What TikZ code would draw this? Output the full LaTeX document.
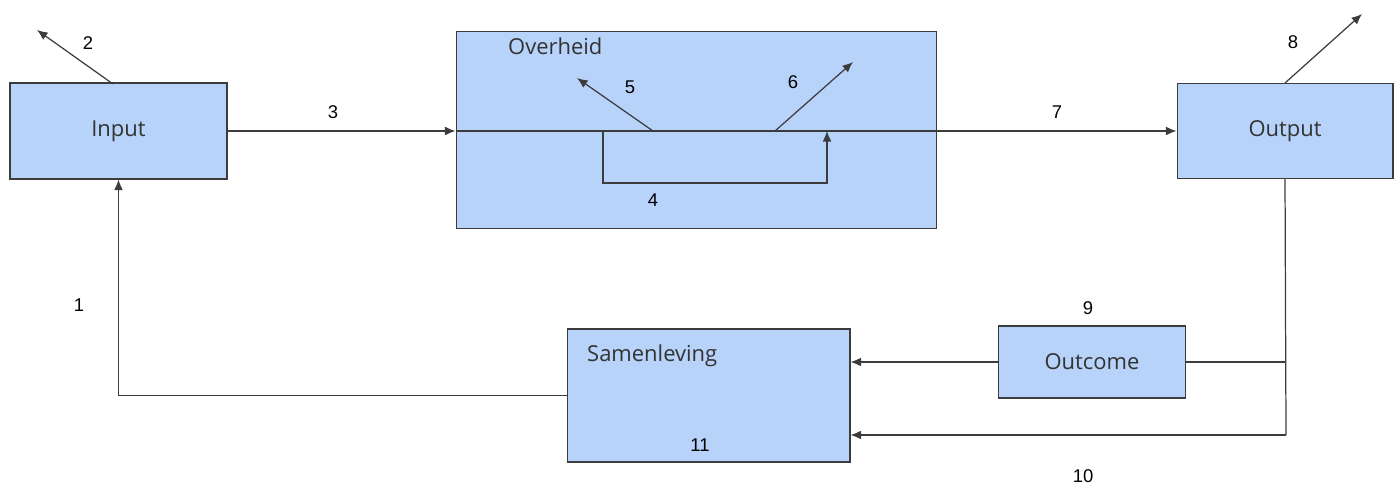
\documentclass[tikz,border=0pt]{standalone}
\usepackage{fontspec}
\setmainfont{Open Sans}
\newfontfamily\numfont{Liberation Sans}
\usetikzlibrary{arrows.meta}
\definecolor{boxblue}{RGB}{183,211,250}
\definecolor{linegray}{RGB}{60,60,60}

\begin{document}
\begin{tikzpicture}[
        x=0.02cm, y=-0.02cm,
        box/.style={rectangle, draw=linegray, fill=boxblue, line width=0.6pt, inner sep=0pt, font=\fontsize{12.5}{14}\selectfont, text=black!80},
        arr/.style={draw=linegray, line width=0.7pt, -{Latex[length=6pt,width=5pt]}},
        ln/.style={draw=linegray, line width=0.7pt},
        num/.style={font=\numfont\fontsize{10.5}{12}\selectfont}
    ]
    \useasboundingbox (0,0) rectangle (1398,486);

    % boxes
    \node[box, minimum width=4.34cm, minimum height=1.92cm] (input) at (118.5,131) {Input};
    \node[box, minimum width=9.62cm, minimum height=3.94cm] (overheid) at (696.5,130) {};
    \node[box, minimum width=4.32cm, minimum height=1.90cm] (output) at (1285,131) {Output};
    \node[box, minimum width=3.74cm, minimum height=1.44cm] (outcome) at (1092,362) {Outcome};
    \node[box, minimum width=5.66cm, minimum height=2.66cm] (samen) at (708.5,395.5) {};
    \node[anchor=west, font=\fontsize{12.5}{14}\selectfont, text=black!80] (overheidtxt) at (502,46) {Overheid};
    \node[anchor=west, font=\fontsize{12.5}{14}\selectfont, text=black!80] (samentxt) at (581,356) {Samenleving};

    % helper points
    \coordinate (in2) at (113,84);
    \coordinate (end2) at (37,30);
    \coordinate (p5) at (653,131);
    \coordinate (end5) at (577,78);
    \coordinate (p6) at (775,131);
    \coordinate (end6) at (853,62);
    \coordinate (p4a) at (603,131);
    \coordinate (p4b) at (827,131);
    \coordinate (end8) at (1362,14);
    \coordinate (turn10) at (1286,435);

    % connectors
    \draw[arr] (in2) -- (end2);
    \draw[arr] (input.east) -- (overheid.west |- input.east);
    \draw[arr] (overheid.west |- input.east) -- (output.west);
    \draw[arr] (p5) -- (end5);
    \draw[arr] (p6) -- (end6);
    \draw[arr] (p4a) -- ++(0,52) -| (p4b);
    \draw[arr] (output.north) -- (end8);
    \draw[ln] (output.south) -- (turn10);
    \draw[arr] (turn10) -- (turn10 -| samen.east);
    \draw[ln] (outcome.east) -- (outcome.east -| turn10);
    \draw[arr] (outcome.west) -- (outcome.west -| samen.east);
    \draw[arr] (samen.west) -| (input.south);

    % numbers
    \node[num] (n1) at (79,305) {1};
    \node[num] (n2) at (88,43) {2};
    \node[num] (n3) at (333,112) {3};
    \node[num] (n4) at (653,200) {4};
    \node[num] (n5) at (630,87) {5};
    \node[num] (n6) at (793,82) {6};
    \node[num] (n7) at (1057,112) {7};
    \node[num] (n8) at (1293,42) {8};
    \node[num] (n9) at (1088,308) {9};
    \node[num] (n10) at (1083,476) {10};
    \node[num] (n11) at (700,445) {11};
\end{tikzpicture}
\end{document}
